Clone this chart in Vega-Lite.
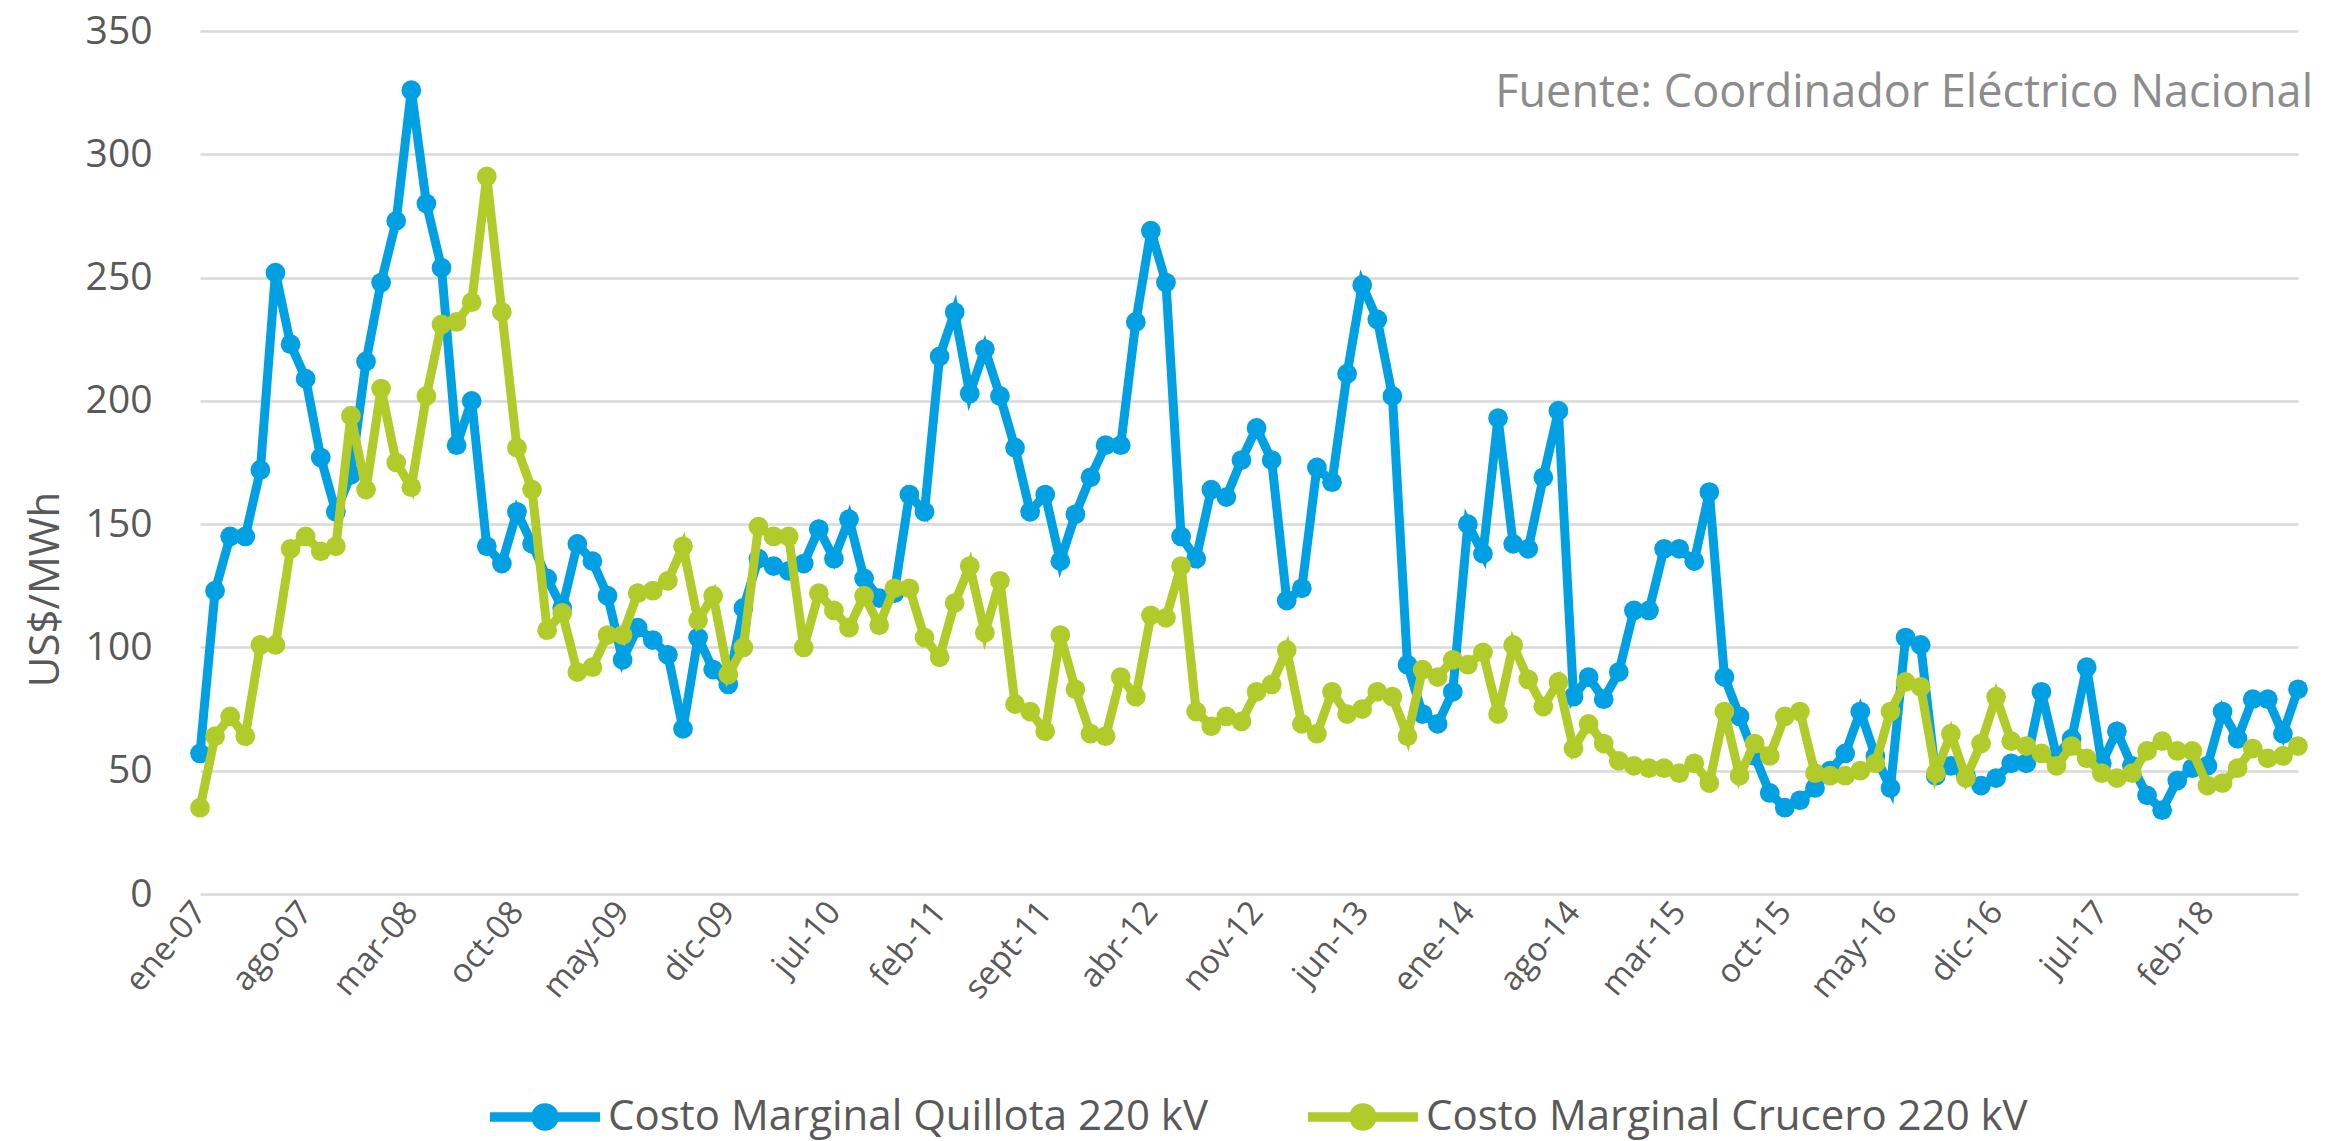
{
  "$schema": "https://vega.github.io/schema/vega-lite/v6.json",
  "autosize": {"type": "none"},
  "padding": {"left": 200, "top": 31, "right": 27, "bottom": 247},
  "width": 2098,
  "height": 863,
  "background": "white",
  "title": {"text": "Fuente: Coordinador Eléctrico Nacional", "anchor": "end", "frame": "group", "orient": "top", "offset": -59, "baseline": "middle", "dx": 15, "dy": 67, "fontSize": 45, "font": "Open Sans", "fontWeight": "normal", "color": "#8C8C8C"},
  "config": {
    "view": {"stroke": null},
    "font": "Open Sans"
  },
  "data": {"values": [
    {"m":"ene-07","s":"Quillota","v":57},{"m":"feb-07","s":"Quillota","v":123},{"m":"mar-07","s":"Quillota","v":145},{"m":"abr-07","s":"Quillota","v":145},{"m":"may-07","s":"Quillota","v":172},{"m":"jun-07","s":"Quillota","v":252},{"m":"jul-07","s":"Quillota","v":223},{"m":"ago-07","s":"Quillota","v":209},{"m":"sept-07","s":"Quillota","v":177},{"m":"oct-07","s":"Quillota","v":155},{"m":"nov-07","s":"Quillota","v":170},{"m":"dic-07","s":"Quillota","v":216},
    {"m":"ene-08","s":"Quillota","v":248},{"m":"feb-08","s":"Quillota","v":273},{"m":"mar-08","s":"Quillota","v":326},{"m":"abr-08","s":"Quillota","v":280},{"m":"may-08","s":"Quillota","v":254},{"m":"jun-08","s":"Quillota","v":182},{"m":"jul-08","s":"Quillota","v":200},{"m":"ago-08","s":"Quillota","v":141},{"m":"sept-08","s":"Quillota","v":134},{"m":"oct-08","s":"Quillota","v":155},{"m":"nov-08","s":"Quillota","v":142},{"m":"dic-08","s":"Quillota","v":128},
    {"m":"ene-09","s":"Quillota","v":116},{"m":"feb-09","s":"Quillota","v":142},{"m":"mar-09","s":"Quillota","v":135},{"m":"abr-09","s":"Quillota","v":121},{"m":"may-09","s":"Quillota","v":95},{"m":"jun-09","s":"Quillota","v":108},{"m":"jul-09","s":"Quillota","v":103},{"m":"ago-09","s":"Quillota","v":97},{"m":"sept-09","s":"Quillota","v":67},{"m":"oct-09","s":"Quillota","v":104},{"m":"nov-09","s":"Quillota","v":91},{"m":"dic-09","s":"Quillota","v":85},
    {"m":"ene-10","s":"Quillota","v":116},{"m":"feb-10","s":"Quillota","v":136},{"m":"mar-10","s":"Quillota","v":133},{"m":"abr-10","s":"Quillota","v":131},{"m":"may-10","s":"Quillota","v":134},{"m":"jun-10","s":"Quillota","v":148},{"m":"jul-10","s":"Quillota","v":136},{"m":"ago-10","s":"Quillota","v":152},{"m":"sept-10","s":"Quillota","v":128},{"m":"oct-10","s":"Quillota","v":120},{"m":"nov-10","s":"Quillota","v":122},{"m":"dic-10","s":"Quillota","v":162},
    {"m":"ene-11","s":"Quillota","v":155},{"m":"feb-11","s":"Quillota","v":218},{"m":"mar-11","s":"Quillota","v":236},{"m":"abr-11","s":"Quillota","v":203},{"m":"may-11","s":"Quillota","v":221},{"m":"jun-11","s":"Quillota","v":202},{"m":"jul-11","s":"Quillota","v":181},{"m":"ago-11","s":"Quillota","v":155},{"m":"sept-11","s":"Quillota","v":162},{"m":"oct-11","s":"Quillota","v":135},{"m":"nov-11","s":"Quillota","v":154},{"m":"dic-11","s":"Quillota","v":169},
    {"m":"ene-12","s":"Quillota","v":182},{"m":"feb-12","s":"Quillota","v":182},{"m":"mar-12","s":"Quillota","v":232},{"m":"abr-12","s":"Quillota","v":269},{"m":"may-12","s":"Quillota","v":248},{"m":"jun-12","s":"Quillota","v":145},{"m":"jul-12","s":"Quillota","v":136},{"m":"ago-12","s":"Quillota","v":164},{"m":"sept-12","s":"Quillota","v":161},{"m":"oct-12","s":"Quillota","v":176},{"m":"nov-12","s":"Quillota","v":189},{"m":"dic-12","s":"Quillota","v":176},
    {"m":"ene-13","s":"Quillota","v":119},{"m":"feb-13","s":"Quillota","v":124},{"m":"mar-13","s":"Quillota","v":173},{"m":"abr-13","s":"Quillota","v":167},{"m":"may-13","s":"Quillota","v":211},{"m":"jun-13","s":"Quillota","v":247},{"m":"jul-13","s":"Quillota","v":233},{"m":"ago-13","s":"Quillota","v":202},{"m":"sept-13","s":"Quillota","v":93},{"m":"oct-13","s":"Quillota","v":73},{"m":"nov-13","s":"Quillota","v":69},{"m":"dic-13","s":"Quillota","v":82},
    {"m":"ene-14","s":"Quillota","v":150},{"m":"feb-14","s":"Quillota","v":138},{"m":"mar-14","s":"Quillota","v":193},{"m":"abr-14","s":"Quillota","v":142},{"m":"may-14","s":"Quillota","v":140},{"m":"jun-14","s":"Quillota","v":169},{"m":"jul-14","s":"Quillota","v":196},{"m":"ago-14","s":"Quillota","v":80},{"m":"sept-14","s":"Quillota","v":88},{"m":"oct-14","s":"Quillota","v":79},{"m":"nov-14","s":"Quillota","v":90},{"m":"dic-14","s":"Quillota","v":115},
    {"m":"ene-15","s":"Quillota","v":115},{"m":"feb-15","s":"Quillota","v":140},{"m":"mar-15","s":"Quillota","v":140},{"m":"abr-15","s":"Quillota","v":135},{"m":"may-15","s":"Quillota","v":163},{"m":"jun-15","s":"Quillota","v":88},{"m":"jul-15","s":"Quillota","v":72},{"m":"ago-15","s":"Quillota","v":56},{"m":"sept-15","s":"Quillota","v":41},{"m":"oct-15","s":"Quillota","v":35},{"m":"nov-15","s":"Quillota","v":38},{"m":"dic-15","s":"Quillota","v":43},
    {"m":"ene-16","s":"Quillota","v":50},{"m":"feb-16","s":"Quillota","v":57},{"m":"mar-16","s":"Quillota","v":74},{"m":"abr-16","s":"Quillota","v":56},{"m":"may-16","s":"Quillota","v":43},{"m":"jun-16","s":"Quillota","v":104},{"m":"jul-16","s":"Quillota","v":101},{"m":"ago-16","s":"Quillota","v":48},{"m":"sept-16","s":"Quillota","v":52},{"m":"oct-16","s":"Quillota","v":48},{"m":"nov-16","s":"Quillota","v":44},{"m":"dic-16","s":"Quillota","v":47},
    {"m":"ene-17","s":"Quillota","v":53},{"m":"feb-17","s":"Quillota","v":53},{"m":"mar-17","s":"Quillota","v":82},{"m":"abr-17","s":"Quillota","v":56},{"m":"may-17","s":"Quillota","v":63},{"m":"jun-17","s":"Quillota","v":92},{"m":"jul-17","s":"Quillota","v":53},{"m":"ago-17","s":"Quillota","v":66},{"m":"sept-17","s":"Quillota","v":52},{"m":"oct-17","s":"Quillota","v":40},{"m":"nov-17","s":"Quillota","v":34},{"m":"dic-17","s":"Quillota","v":46},
    {"m":"ene-18","s":"Quillota","v":51},{"m":"feb-18","s":"Quillota","v":52},{"m":"mar-18","s":"Quillota","v":74},{"m":"abr-18","s":"Quillota","v":63},{"m":"may-18","s":"Quillota","v":79},{"m":"jun-18","s":"Quillota","v":79},{"m":"jul-18","s":"Quillota","v":65},{"m":"ago-18","s":"Quillota","v":83},
    {"m":"ene-07","s":"Crucero","v":35},{"m":"feb-07","s":"Crucero","v":64},{"m":"mar-07","s":"Crucero","v":72},{"m":"abr-07","s":"Crucero","v":64},{"m":"may-07","s":"Crucero","v":101},{"m":"jun-07","s":"Crucero","v":101},{"m":"jul-07","s":"Crucero","v":140},{"m":"ago-07","s":"Crucero","v":145},{"m":"sept-07","s":"Crucero","v":139},{"m":"oct-07","s":"Crucero","v":141},{"m":"nov-07","s":"Crucero","v":194},{"m":"dic-07","s":"Crucero","v":164},
    {"m":"ene-08","s":"Crucero","v":205},{"m":"feb-08","s":"Crucero","v":175},{"m":"mar-08","s":"Crucero","v":165},{"m":"abr-08","s":"Crucero","v":202},{"m":"may-08","s":"Crucero","v":231},{"m":"jun-08","s":"Crucero","v":232},{"m":"jul-08","s":"Crucero","v":240},{"m":"ago-08","s":"Crucero","v":291},{"m":"sept-08","s":"Crucero","v":236},{"m":"oct-08","s":"Crucero","v":181},{"m":"nov-08","s":"Crucero","v":164},{"m":"dic-08","s":"Crucero","v":107},
    {"m":"ene-09","s":"Crucero","v":114},{"m":"feb-09","s":"Crucero","v":90},{"m":"mar-09","s":"Crucero","v":92},{"m":"abr-09","s":"Crucero","v":105},{"m":"may-09","s":"Crucero","v":105},{"m":"jun-09","s":"Crucero","v":122},{"m":"jul-09","s":"Crucero","v":123},{"m":"ago-09","s":"Crucero","v":127},{"m":"sept-09","s":"Crucero","v":141},{"m":"oct-09","s":"Crucero","v":111},{"m":"nov-09","s":"Crucero","v":121},{"m":"dic-09","s":"Crucero","v":89},
    {"m":"ene-10","s":"Crucero","v":100},{"m":"feb-10","s":"Crucero","v":149},{"m":"mar-10","s":"Crucero","v":145},{"m":"abr-10","s":"Crucero","v":145},{"m":"may-10","s":"Crucero","v":100},{"m":"jun-10","s":"Crucero","v":122},{"m":"jul-10","s":"Crucero","v":115},{"m":"ago-10","s":"Crucero","v":108},{"m":"sept-10","s":"Crucero","v":121},{"m":"oct-10","s":"Crucero","v":109},{"m":"nov-10","s":"Crucero","v":124},{"m":"dic-10","s":"Crucero","v":124},
    {"m":"ene-11","s":"Crucero","v":104},{"m":"feb-11","s":"Crucero","v":96},{"m":"mar-11","s":"Crucero","v":118},{"m":"abr-11","s":"Crucero","v":133},{"m":"may-11","s":"Crucero","v":106},{"m":"jun-11","s":"Crucero","v":127},{"m":"jul-11","s":"Crucero","v":77},{"m":"ago-11","s":"Crucero","v":74},{"m":"sept-11","s":"Crucero","v":66},{"m":"oct-11","s":"Crucero","v":105},{"m":"nov-11","s":"Crucero","v":83},{"m":"dic-11","s":"Crucero","v":65},
    {"m":"ene-12","s":"Crucero","v":64},{"m":"feb-12","s":"Crucero","v":88},{"m":"mar-12","s":"Crucero","v":80},{"m":"abr-12","s":"Crucero","v":113},{"m":"may-12","s":"Crucero","v":112},{"m":"jun-12","s":"Crucero","v":133},{"m":"jul-12","s":"Crucero","v":74},{"m":"ago-12","s":"Crucero","v":68},{"m":"sept-12","s":"Crucero","v":72},{"m":"oct-12","s":"Crucero","v":70},{"m":"nov-12","s":"Crucero","v":82},{"m":"dic-12","s":"Crucero","v":85},
    {"m":"ene-13","s":"Crucero","v":99},{"m":"feb-13","s":"Crucero","v":69},{"m":"mar-13","s":"Crucero","v":65},{"m":"abr-13","s":"Crucero","v":82},{"m":"may-13","s":"Crucero","v":73},{"m":"jun-13","s":"Crucero","v":75},{"m":"jul-13","s":"Crucero","v":82},{"m":"ago-13","s":"Crucero","v":80},{"m":"sept-13","s":"Crucero","v":64},{"m":"oct-13","s":"Crucero","v":91},{"m":"nov-13","s":"Crucero","v":88},{"m":"dic-13","s":"Crucero","v":95},
    {"m":"ene-14","s":"Crucero","v":93},{"m":"feb-14","s":"Crucero","v":98},{"m":"mar-14","s":"Crucero","v":73},{"m":"abr-14","s":"Crucero","v":101},{"m":"may-14","s":"Crucero","v":87},{"m":"jun-14","s":"Crucero","v":76},{"m":"jul-14","s":"Crucero","v":86},{"m":"ago-14","s":"Crucero","v":59},{"m":"sept-14","s":"Crucero","v":69},{"m":"oct-14","s":"Crucero","v":61},{"m":"nov-14","s":"Crucero","v":54},{"m":"dic-14","s":"Crucero","v":52},
    {"m":"ene-15","s":"Crucero","v":51},{"m":"feb-15","s":"Crucero","v":51},{"m":"mar-15","s":"Crucero","v":49},{"m":"abr-15","s":"Crucero","v":53},{"m":"may-15","s":"Crucero","v":45},{"m":"jun-15","s":"Crucero","v":74},{"m":"jul-15","s":"Crucero","v":48},{"m":"ago-15","s":"Crucero","v":61},{"m":"sept-15","s":"Crucero","v":56},{"m":"oct-15","s":"Crucero","v":72},{"m":"nov-15","s":"Crucero","v":74},{"m":"dic-15","s":"Crucero","v":49},
    {"m":"ene-16","s":"Crucero","v":48},{"m":"feb-16","s":"Crucero","v":48},{"m":"mar-16","s":"Crucero","v":50},{"m":"abr-16","s":"Crucero","v":53},{"m":"may-16","s":"Crucero","v":74},{"m":"jun-16","s":"Crucero","v":86},{"m":"jul-16","s":"Crucero","v":84},{"m":"ago-16","s":"Crucero","v":49},{"m":"sept-16","s":"Crucero","v":65},{"m":"oct-16","s":"Crucero","v":47},{"m":"nov-16","s":"Crucero","v":61},{"m":"dic-16","s":"Crucero","v":80},
    {"m":"ene-17","s":"Crucero","v":62},{"m":"feb-17","s":"Crucero","v":60},{"m":"mar-17","s":"Crucero","v":57},{"m":"abr-17","s":"Crucero","v":52},{"m":"may-17","s":"Crucero","v":60},{"m":"jun-17","s":"Crucero","v":55},{"m":"jul-17","s":"Crucero","v":49},{"m":"ago-17","s":"Crucero","v":47},{"m":"sept-17","s":"Crucero","v":49},{"m":"oct-17","s":"Crucero","v":58},{"m":"nov-17","s":"Crucero","v":62},{"m":"dic-17","s":"Crucero","v":58},
    {"m":"ene-18","s":"Crucero","v":58},{"m":"feb-18","s":"Crucero","v":44},{"m":"mar-18","s":"Crucero","v":45},{"m":"abr-18","s":"Crucero","v":51},{"m":"may-18","s":"Crucero","v":59},{"m":"jun-18","s":"Crucero","v":55},{"m":"jul-18","s":"Crucero","v":56},{"m":"ago-18","s":"Crucero","v":60}
  ]},
  "encoding": {
    "x": {"field": "m", "type": "ordinal", "sort": null, "scale": {"type": "point", "padding": 0},
      "axis": {"title": null, "values": ["ene-07","ago-07","mar-08","oct-08","may-09","dic-09","jul-10","feb-11","sept-11","abr-12","nov-12","jun-13","ene-14","ago-14","mar-15","oct-15","may-16","dic-16","jul-17","feb-18"],
        "labelAngle": -50, "labelAlign": "right", "labelBaseline": "middle", "labelFontSize": 33, "labelColor": "#595959", "labelPadding": 12, "domain": false, "ticks": false, "grid": false, "labelFont": "Open Sans"}},
    "y": {"field": "v", "type": "quantitative", "scale": {"domain": [0, 350], "nice": false},
      "axis": {"title": "US$/MWh", "titleFontSize": 42, "titleFont": "Open Sans", "titleFontWeight": "normal", "titleColor": "#595959", "titleX": -155, "titleY": 558, "titleAngle": -90, "titleBaseline": "middle", "titleAlign": "center",
        "values": [0,50,100,150,200,250,300,350], "labelFontSize": 39, "labelColor": "#595959", "labelPadding": 48, "labelFont": "Open Sans",
        "domain": false, "ticks": false, "grid": true, "gridColor": "#D9D9D9", "gridWidth": 2.5}},
    "color": {"field": "s", "type": "nominal", "scale": {"domain": ["Quillota", "Crucero"], "range": ["#00A0E3", "#B1CB2B"]},
      "legend": {"title": null, "orient": "none", "legendX": 290, "legendY": 1031, "direction": "horizontal", "columns": 2, "columnPadding": 100,
        "labelExpr": "'Costo Marginal ' + datum.label + ' 220 kV'", "labelFontSize": 42, "labelColor": "#595959", "labelFont": "Open Sans", "labelLimit": 1000, "labelOffset": 8,
        "symbolType": "M-1,-0.085L1,-0.085L1,0.085L-1,0.085Z M0.25,0A0.25,0.25,0,1,1,-0.25,0A0.25,0.25,0,1,1,0.25,0Z", "symbolSize": 12100, "symbolStrokeWidth": 0, "symbolOpacity": 1}}
  },
  "layer": [
    {"transform": [{"filter": "datum.s === 'Quillota'"}], "mark": {"type": "line", "strokeWidth": 9}},
    {"transform": [{"filter": "datum.s === 'Quillota'"}], "mark": {"type": "point", "filled": true, "size": 390, "opacity": 1}},
    {"transform": [{"filter": "datum.s === 'Crucero'"}], "mark": {"type": "line", "strokeWidth": 9}},
    {"transform": [{"filter": "datum.s === 'Crucero'"}], "mark": {"type": "point", "filled": true, "size": 390, "opacity": 1}}
  ]
}
